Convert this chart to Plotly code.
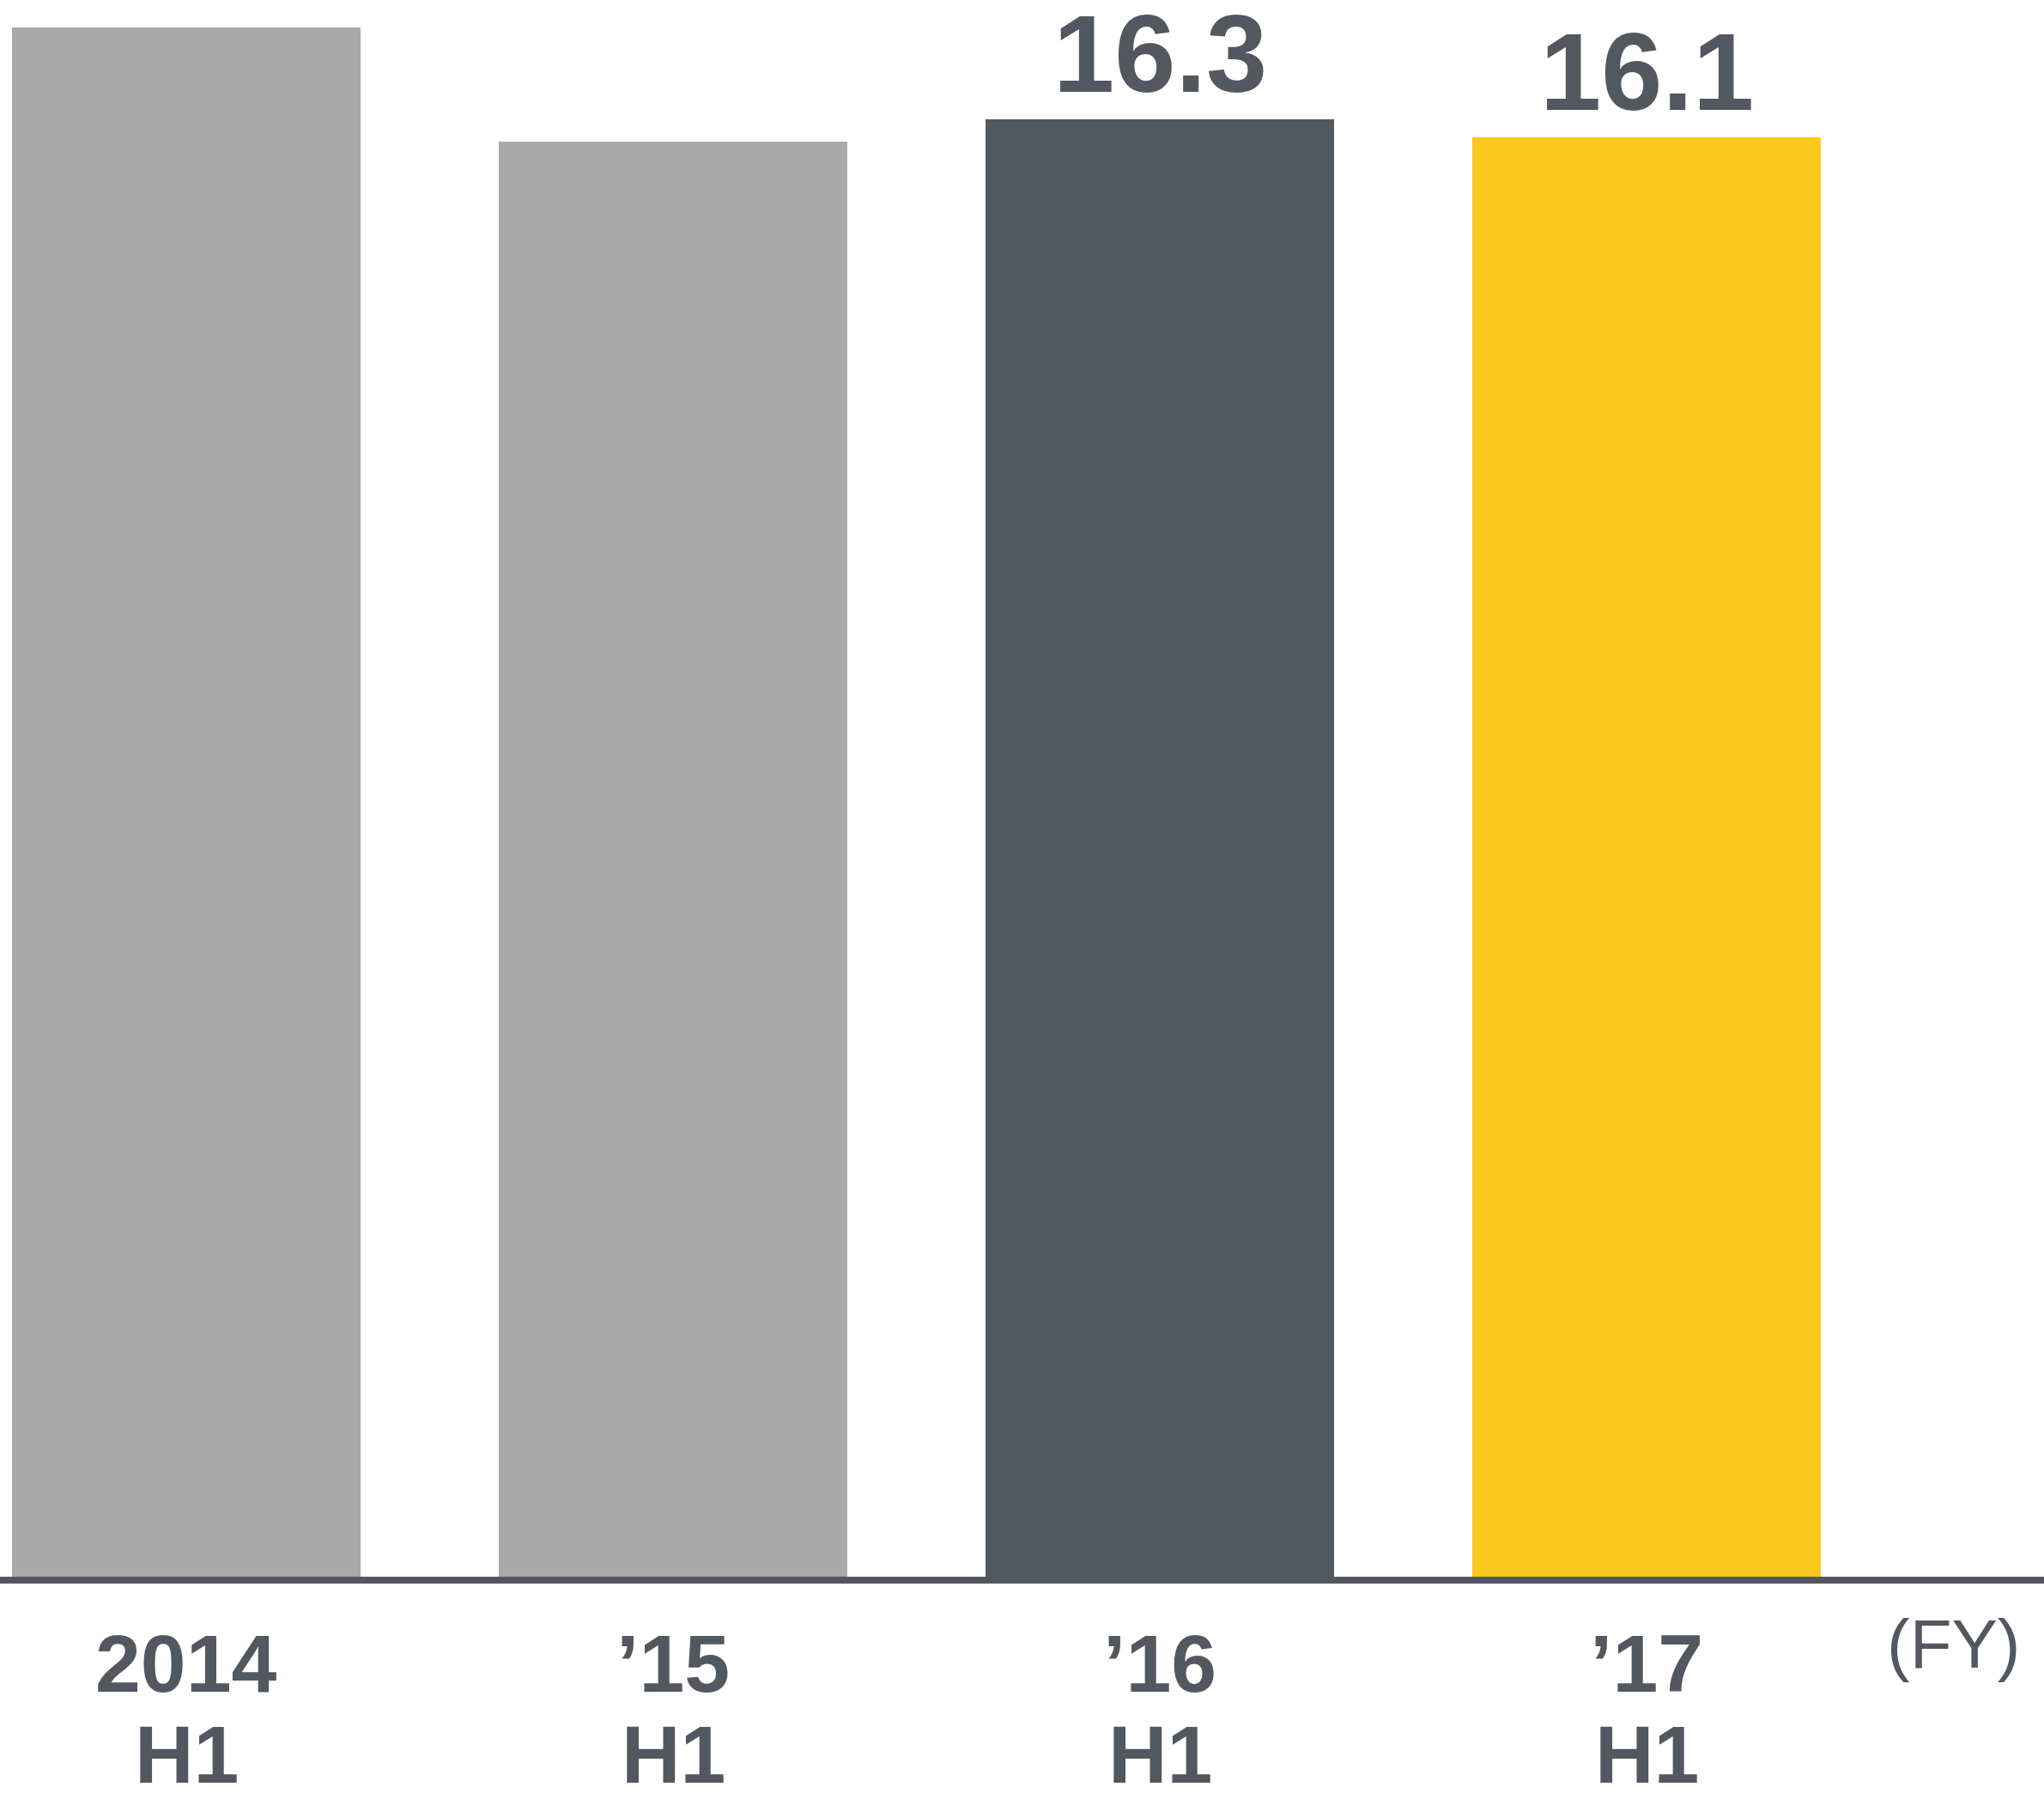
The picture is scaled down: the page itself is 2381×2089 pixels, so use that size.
import plotly.graph_objects as go

# Half-year (H1) results by fiscal year
years = ["2014", "’15", "’16", "’17"]
period = ["H1", "H1", "H1", "H1"]
values = [17.33, 16.05, 16.3, 16.1]
bar_colors = ["#A9A9A9", "#A9A9A9", "#535860", "#FCC81F"]
show_value = [False, False, True, True]

TEXT = "#53575F"
FONT = "Liberation Sans, Arial, sans-serif"

W, H = 2381, 2089
plot_bottom = 1841          # pixel row of the baseline
px_per_unit = 104.4
bar_pitch = 567
first_center = 217

xs = list(range(len(values)))

fig = go.Figure(
    go.Bar(
        x=xs,
        y=values,
        width=0.716,
        marker=dict(color=bar_colors, line=dict(width=0)),
        hoverinfo="skip",
    )
)

annotations = []
for i, (yr, hp, v, show) in enumerate(zip(years, period, values, show_value)):
    if show:
        annotations.append(dict(
            x=i, y=v, xref="x", yref="y", text=f"<b>{v:.1f}</b>",
            showarrow=False, xanchor="center", yanchor="middle", yshift=77,
            height=112, valign="middle",
            font=dict(family=FONT, size=128, color=TEXT),
        ))
    annotations.append(dict(
        x=i, y=0, xref="x", yref="paper", text=f"<b>{yr}</b>",
        showarrow=False, xanchor="center", yanchor="middle", yshift=-97,
        height=90, valign="middle",
        font=dict(family=FONT, size=95, color=TEXT),
    ))
    annotations.append(dict(
        x=i, y=0, xref="x", yref="paper", text=f"<b>{hp}</b>",
        showarrow=False, xanchor="center", yanchor="middle", yshift=-203,
        height=84, valign="middle",
        font=dict(family=FONT, size=95, color=TEXT),
    ))

annotations.append(dict(
    x=2276 / W, y=0, xref="paper", yref="paper", text="(FY)",
    showarrow=False, xanchor="center", yanchor="middle", yshift=-74,
    font=dict(family=FONT, size=80, color=TEXT),
))

fig.update_layout(
    width=W,
    height=H,
    margin=dict(l=0, r=0, t=0, b=H - plot_bottom, pad=0),
    paper_bgcolor="white",
    plot_bgcolor="white",
    showlegend=False,
    bargap=0,
    xaxis=dict(
        range=[-first_center / bar_pitch, (W - first_center) / bar_pitch],
        showticklabels=False, showgrid=False, zeroline=False, showline=False,
        fixedrange=True,
    ),
    yaxis=dict(
        range=[0, plot_bottom / px_per_unit],
        showticklabels=False, showgrid=False, zeroline=False, showline=False,
        fixedrange=True,
    ),
    annotations=annotations,
    # baseline rule drawn in paper space so it is not clipped by the plot area
    shapes=[dict(
        type="line", xref="paper", yref="paper", x0=0, x1=1, y0=0, y1=0,
        line=dict(color="#53575F", width=8), layer="above",
    )],
)

fig.write_html("out.html")
